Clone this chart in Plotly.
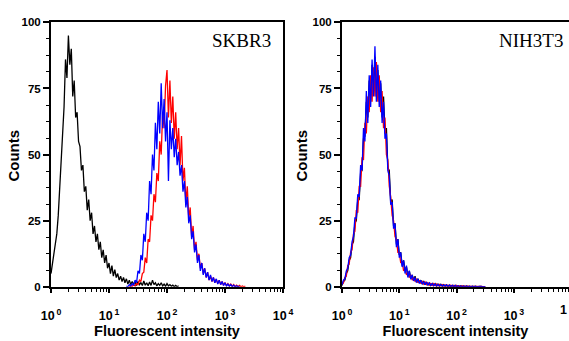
import plotly.graph_objects as go

# ---------------- data (counts per channel, 40 channels per decade) ----------------
CH_PER_DECADE = 40
decade_labels = ["10<sup>\u20090</sup>", "10<sup>\u20091</sup>", "10<sup>\u20092</sup>", "10<sup>\u20093</sup>", "10<sup>\u20094</sup>"]
decade_vals = [1, 10, 100, 1000, 10000]
count_ticks = [0, 25, 50, 75, 100]
cut_label = "1"  # visible part of the clipped 10^4 label on the right panel

skbr3_black_start = 0
skbr3_black = [5, 9, 11, 17, 20, 27, 38, 45, 60, 68, 86, 79, 95, 84, 90, 72, 78, 64, 66, 55,
               53, 44, 46, 36, 38, 29, 33, 25, 28, 20, 23, 17, 20, 14, 17, 11, 14, 9, 12, 7,
               9, 5, 8, 4, 6.5, 3.5, 5, 2.5, 4, 2, 3.5, 1.5, 3, 1, 2.5, 0.8, 2, 1, 1.8, 0.5,
               2, 0.8, 1.5, 0.5, 2.2, 0.6, 1.5, 0.4, 1.8, 0.5, 2.5, 0.8, 1.5, 0.3, 1.2, 0.5, 1.5, 0.3, 1, 0.2,
               1.2, 0.3, 0.8, 0.2, 0.6, 0, 0.5, 0, 0.4]

skbr3_blue_start = 52
skbr3_blue = [0.3, 0, 0.8, 0.3, 1.2, 0.5, 2.5, 1.5, 6, 5, 12, 10, 20, 17, 28, 25, 40, 35, 50, 44,
              62, 52, 70, 58, 77, 60, 71, 55, 66, 40, 63, 52, 60, 49, 56, 46, 51, 42, 46, 36,
              40, 30, 34, 24, 27, 18, 21, 13, 16, 9, 12, 6, 9, 4.5, 7, 3.5, 5.5, 2.5, 4.5, 2,
              3.5, 1.5, 3, 1, 2.5, 0.8, 2, 0.5, 1.5, 0.3, 1, 0.2, 0.8, 0, 0.6, 0, 0.4, 0, 0.2]

skbr3_red_start = 54
skbr3_red = [0, 0.3, 0.2, 0.8, 0.3, 1.2, 0.8, 2.5, 2, 5, 5.5, 11, 9, 18, 17, 27, 25, 35, 32, 43,
             40, 55, 50, 66, 60, 76, 82, 64, 78, 62, 72, 56, 66, 52, 60, 46, 57, 40, 45, 32,
             38, 26, 30, 19, 23, 14, 17, 10, 12.5, 7, 9, 5, 7, 3.5, 5.5, 2.5, 4, 2, 3.5, 1.5,
             2.8, 1.2, 2.5, 0.8, 2, 0.6, 1.6, 0.4, 1.2, 0.3, 1, 0.2, 0.8, 0, 0.6, 0, 0.5, 0, 0.3, 0, 0.2]

nih_black_start = 0
nih_black = [0.5, 2, 2.5, 5, 6, 10, 11, 16, 17, 24, 25, 33, 33, 43, 44, 56, 57, 70, 64, 78,
             70, 84, 74, 87, 72, 82, 70, 77, 64, 72, 58, 60, 45, 44, 32, 33, 23, 24, 16, 18,
             12, 13, 8, 10, 6, 7.5, 4, 6, 3, 4.5, 2.5, 4, 1.8, 3, 1.5, 2.5, 1, 2.2, 0.8, 1.8,
             0.6, 1.5, 0.5, 1.2, 0.4, 1.2, 0.3, 1, 0.3, 0.9, 0.2, 0.8, 0.2, 0.7, 0.1, 0.6, 0.1, 0.5, 0, 0.5,
             0, 0.4, 0, 0.4, 0, 0.3, 0, 0.3, 0, 0.2, 0, 0.2, 0, 0.2, 0, 0.1, 0, 0.1, 0, 0.1, 0]

nih_red_start = 0
nih_red = [1, 1.5, 3.5, 4, 8, 8.5, 13, 14, 20, 21, 29, 28, 38, 38, 49, 48, 62, 58, 72, 66,
           80, 70, 83, 72, 85, 70, 80, 66, 74, 60, 64, 50, 48, 38, 34, 27, 25, 19, 18, 13,
           13, 9, 9.5, 6, 7, 4.5, 5.5, 3.5, 4.5, 2.5, 3.5, 2, 3, 1.5, 2.5, 1.2, 2, 1, 1.8, 0.8,
           1.5, 0.6, 1.2, 0.5, 1.2, 0.4, 1, 0.3, 0.9, 0.3, 0.8, 0.2, 0.7, 0.2, 0.6, 0.1, 0.6, 0.1, 0.5, 0,
           0.5, 0, 0.4, 0, 0.4, 0, 0.3, 0, 0.3, 0, 0.2, 0, 0.2, 0, 0.2, 0, 0.1, 0, 0.1, 0, 0]

nih_blue_start = 0
nih_blue = [0.8, 2.5, 3, 6, 7, 11, 12, 17, 19, 26, 26, 35, 34, 46, 44, 60, 55, 74, 62, 80,
            68, 86, 72, 91, 70, 84, 68, 78, 62, 70, 56, 58, 44, 42, 31, 32, 22, 24, 15, 18,
            11, 13, 7.5, 10, 5, 8, 3.5, 6, 2.8, 4.5, 2.2, 3.5, 1.6, 3, 1.2, 2.5, 1, 2, 0.8, 1.8,
            0.6, 1.4, 0.5, 1.2, 0.4, 1, 0.3, 0.9, 0.3, 0.8, 0.2, 0.7, 0.2, 0.7, 0.1, 0.6, 0.1, 0.5, 0, 0.5,
            0, 0.4, 0, 0.3, 0, 0.3, 0, 0.3, 0, 0.2, 0, 0.2, 0, 0.2, 0, 0.1, 0, 0.1, 0, 0.1, 0]

panel_titles = ["SKBR3", "NIH3T3"]
x_title = "Fluorescent intensity"
y_title = "Counts"


def chan_x(start, n):
    return [10 ** ((start + i) / CH_PER_DECADE) for i in range(n)]


W, H = 569, 341
fig = go.Figure()

series = [
    ("x", "y", skbr3_black_start, skbr3_black, "black"),
    ("x", "y", skbr3_red_start, skbr3_red, "#ff0000"),
    ("x", "y", skbr3_blue_start, skbr3_blue, "#0000ff"),
    ("x2", "y2", nih_black_start, nih_black, "black"),
    ("x2", "y2", nih_red_start, nih_red, "#ff0000"),
    ("x2", "y2", nih_blue_start, nih_blue, "#0000ff"),
]
for xa, ya, st, vals, col in series:
    fig.add_trace(go.Scatter(x=chan_x(st, len(vals)), y=vals, mode="lines",
                             line=dict(color=col, width=1.3), xaxis=xa, yaxis=ya,
                             showlegend=False, hoverinfo="skip"))

xtick_font = dict(family="Arial, Liberation Sans, sans-serif", size=12.5, color="black", weight="bold")
ytick_font = dict(family="Arial, Liberation Sans, sans-serif", size=11.5, color="black", weight="bold")
xlab_font = dict(family="Arial, Liberation Sans, sans-serif", size=14.5, color="black", weight="bold")
ylab_font = dict(family="Arial, Liberation Sans, sans-serif", size=15, color="black", weight="bold")
minor_x = [d * 10 ** k for k in range(4) for d in range(2, 10)]

ydom = [50 / H, 324 / H]

common_x = dict(type="log", showgrid=False, zeroline=False, showline=True, linecolor="black",
                linewidth=2, ticks="outside", ticklen=4, tickwidth=1.5, tickcolor="black",
                tickvals=decade_vals, ticktext=decade_labels, tickfont=xtick_font,
                ticklabelstandoff=12, automargin=False,
                title=dict(text=x_title, font=xlab_font, standoff=3),
                minor=dict(tickvals=minor_x, ticks="outside", ticklen=3, tickwidth=1.2, tickcolor="black"))
common_y = dict(range=[0, 100], domain=ydom, showgrid=False, zeroline=False, showline=True,
                linecolor="black", linewidth=2, ticks="outside", ticklen=6, tickwidth=1.5,
                tickcolor="black", tickvals=count_ticks, tickfont=ytick_font,
                minor=dict(dtick=6.25, ticks="outside", ticklen=3, tickwidth=1.2, tickcolor="black"))

fig.update_layout(
    width=W, height=H, margin=dict(l=0, r=0, t=0, b=0),
    paper_bgcolor="white", plot_bgcolor="white",
    xaxis=dict(common_x, domain=[51 / W, 283 / W], range=[0, 4], anchor="y", mirror=True),
    yaxis=dict(common_y, anchor="x", mirror=True),
    xaxis2=dict(common_x, domain=[342 / W, 1.0], range=[0, (W - 342) / 57.3], anchor="y2", mirror=True),
    yaxis2=dict(common_y, anchor="x2", mirror=False),
)

title_font = dict(family="Liberation Serif, Times New Roman, serif", size=19, color="black")
annots = [
    dict(text=panel_titles[0], x=273 / W, y=(H - 36) / H, xanchor="right", yanchor="middle", font=title_font),
    dict(text=panel_titles[1], x=565 / W, y=(H - 36) / H, xanchor="right", yanchor="middle", font=title_font),
    dict(text=y_title, x=14 / W, y=(H - 155) / H, xanchor="center", yanchor="middle", textangle=-90, font=ylab_font),
    dict(text=y_title, x=302 / W, y=(H - 155) / H, xanchor="center", yanchor="middle", textangle=-90, font=ylab_font),
    dict(text=cut_label, x=1.0, y=(H - 315) / H, xanchor="right", yanchor="middle", font=xtick_font),
]
for a in annots:
    fig.add_annotation(xref="paper", yref="paper", showarrow=False, **a)

fig.write_html("out.html")
